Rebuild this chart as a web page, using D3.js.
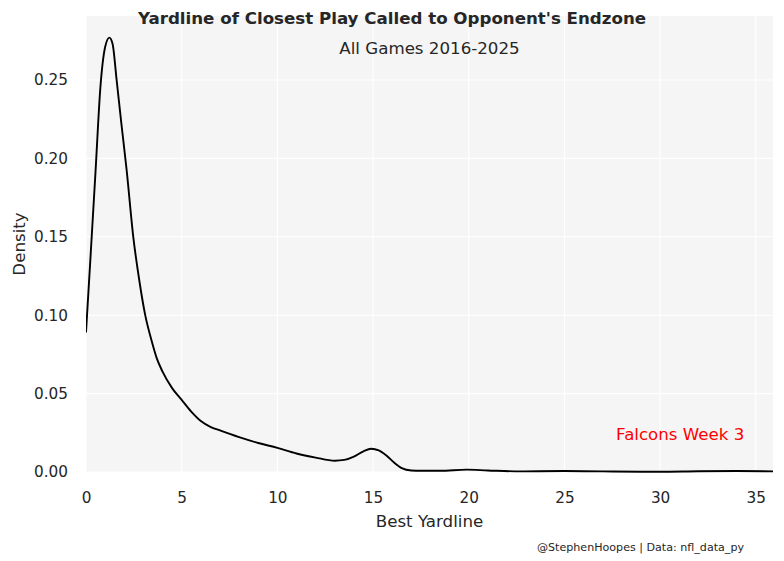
<!DOCTYPE html>
<html>
<head>
<meta charset="utf-8">
<script src="https://cdn.jsdelivr.net/npm/d3@7"></script>
<style>
  html, body { margin: 0; padding: 0; background: #ffffff; }
  svg { display: block; font-family: "DejaVu Sans", sans-serif; }
</style>
</head>
<body>
<svg id="chart" width="784" height="561"></svg>
<script>
// ---- Data ----
const yardline = [0, 0.25, 0.5, 0.75, 1.0, 1.22, 1.39, 1.6, 1.85, 2.12, 2.47, 2.8, 3.1, 3.4, 3.7, 4.0, 4.5, 5.0, 5.5, 6.0, 6.5, 7.0, 8.0, 9.0, 10.0, 11.0, 12.0, 13.0, 13.5, 14.0, 14.5, 14.9, 15.3, 15.7, 16.1, 16.5, 17.0, 17.5, 18.5, 19.9, 21.0, 22.7, 25.0, 27.0, 29.0, 30.0, 32.0, 34.0, 35.9];
const density = [0.089, 0.140, 0.192, 0.245, 0.271, 0.277, 0.273, 0.250, 0.222, 0.193, 0.150, 0.121, 0.0997, 0.085, 0.0725, 0.064, 0.0535, 0.046, 0.0385, 0.0325, 0.0288, 0.0265, 0.0222, 0.0185, 0.0154, 0.0118, 0.0092, 0.0072, 0.0077, 0.0098, 0.0132, 0.0148, 0.0138, 0.0105, 0.0060, 0.0025, 0.0010, 0.0008, 0.0008, 0.0015, 0.0010, 0.0004, 0.0006, 0.0004, 0.0002, 0.0002, 0.0005, 0.0006, 0.0004];
const xTicks = [0, 5, 10, 15, 20, 25, 30, 35];
const yTicks = [0.00, 0.05, 0.10, 0.15, 0.20, 0.25];
const xDomain = [0, 35.9];
const yDomain = [0, 0.2908];
const titleText = "Yardline of Closest Play Called to Opponent's Endzone";
const subtitleText = "All Games 2016-2025";
const xLabel = "Best Yardline";
const yLabel = "Density";
const annotationText = "Falcons Week 3";
const annotationPos = [27.7, 0.0206];
const creditText = "@StephenHoopes | Data: nfl_data_py";

// ---- Layout ----
const W = 784, H = 561;
const margin = { left: 86, right: 11, top: 16, bottom: 89 };
const innerW = W - margin.left - margin.right;
const innerH = H - margin.top - margin.bottom;
const textColor = "#262626";
const labelSize = "16.67px";
const tickSize = "15.28px";

const svg = d3.select("#chart");
svg.append("rect").attr("width", W).attr("height", H).attr("fill", "#ffffff");

const g = svg.append("g").attr("transform", `translate(${margin.left},${margin.top})`);

const x = d3.scaleLinear().domain(xDomain).range([0, innerW]);
const y = d3.scaleLinear().domain(yDomain).range([innerH, 0]);

// plot background
g.append("rect").attr("width", innerW).attr("height", innerH).attr("fill", "#f5f5f5");

// grid
g.append("g").selectAll("line").data(xTicks).join("line")
  .attr("x1", d => x(d)).attr("x2", d => x(d))
  .attr("y1", 0).attr("y2", innerH)
  .attr("stroke", "#ffffff").attr("stroke-width", 1.1);
g.append("g").selectAll("line").data(yTicks).join("line")
  .attr("x1", 0).attr("x2", innerW)
  .attr("y1", d => y(d)).attr("y2", d => y(d))
  .attr("stroke", "#ffffff").attr("stroke-width", 1.1);

// axes
const xAxis = d3.axisBottom(x).tickValues(xTicks).tickFormat(d3.format("d")).tickSize(0).tickPadding(20);
const yAxis = d3.axisLeft(y).tickValues(yTicks).tickFormat(d3.format(".2f")).tickSize(0).tickPadding(18);

const gx = g.append("g").attr("transform", `translate(0,${innerH})`).call(xAxis);
const gy = g.append("g").call(yAxis);
[gx, gy].forEach(a => {
  a.select(".domain").remove();
  a.selectAll("text").attr("fill", textColor).style("font-size", tickSize).style("font-family", "DejaVu Sans, sans-serif");
});

// density line
const pts = yardline.map((v, i) => [v, density[i]]);
const clipId = "plotclip";
g.append("clipPath").attr("id", clipId).append("rect").attr("width", innerW).attr("height", innerH + 2).attr("y", -1);
g.append("path")
  .datum(pts)
  .attr("clip-path", `url(#${clipId})`)
  .attr("fill", "none")
  .attr("stroke", "#000000")
  .attr("stroke-width", 1.9)
  .attr("stroke-linejoin", "round")
  .attr("d", d3.line().x(d => x(d[0])).y(d => y(d[1])).curve(d3.curveMonotoneX));

// annotation
g.append("text")
  .attr("x", x(annotationPos[0])).attr("y", y(annotationPos[1]))
  .attr("fill", "#ff0000").style("font-size", labelSize)
  .text(annotationText);

// axis labels
g.append("text")
  .attr("x", innerW / 2).attr("y", innerH + 55)
  .attr("text-anchor", "middle").attr("fill", textColor).style("font-size", labelSize)
  .text(xLabel);
svg.append("text")
  .attr("transform", `translate(25,${margin.top + innerH / 2}) rotate(-90)`)
  .attr("text-anchor", "middle").attr("fill", textColor).style("font-size", labelSize)
  .text(yLabel);

// titles
svg.append("text")
  .attr("x", W / 2).attr("y", 24)
  .attr("text-anchor", "middle").attr("fill", textColor)
  .style("font-size", labelSize).style("font-weight", "bold")
  .text(titleText);
g.append("text")
  .attr("x", innerW / 2).attr("y", 38)
  .attr("text-anchor", "middle").attr("fill", textColor).style("font-size", labelSize)
  .text(subtitleText);

// credit
svg.append("text")
  .attr("x", 744).attr("y", 551)
  .attr("text-anchor", "end").attr("fill", textColor).style("font-size", "11.1px")
  .text(creditText);
</script>
</body>
</html>
